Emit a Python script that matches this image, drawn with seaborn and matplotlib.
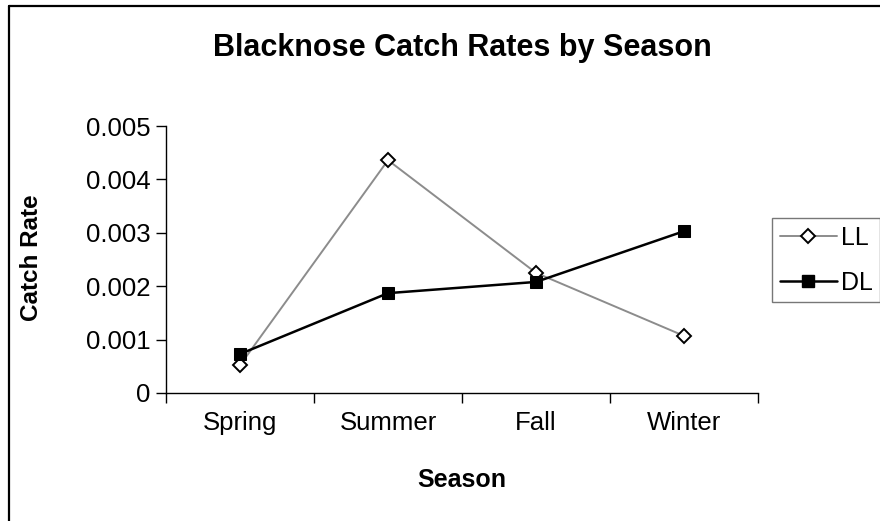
import numpy as np
import pandas as pd
import matplotlib
matplotlib.use("Agg")
import matplotlib.pyplot as plt
from matplotlib.lines import Line2D
import seaborn as sns

seasons = ["Spring", "Summer", "Fall", "Winter"]
ll_rate = [0.00052, 0.00436, 0.00225, 0.00107]
dl_rate = [0.00073, 0.00187, 0.00208, 0.00303]
y_ticks = [0, 0.001, 0.002, 0.003, 0.004, 0.005]
y_tick_labels = ["0", "0.001", "0.002", "0.003", "0.004", "0.005"]

sns.set_style("white")
plt.rcParams["font.family"] = ["Liberation Sans", "DejaVu Sans"]
plt.rcParams["text.color"] = "black"
plt.rcParams["axes.labelcolor"] = "black"
plt.rcParams["xtick.color"] = "black"
plt.rcParams["ytick.color"] = "black"

df = pd.DataFrame({
    "Season": seasons * 2,
    "Catch Rate": ll_rate + dl_rate,
    "Gear": ["LL"] * 4 + ["DL"] * 4,
})

W, H = 880, 521
fig = plt.figure(figsize=(W / 100, H / 100), dpi=100, facecolor="white")
ax = fig.add_axes([166 / W, 1 - 393 / H, (758 - 166) / W, (393 - 126) / H])

ll = df[df["Gear"] == "LL"]
dl = df[df["Gear"] == "DL"]
sns.lineplot(data=ll, x="Season", y="Catch Rate", ax=ax, color="#8c8c8c", lw=1.4,
             marker="D", markersize=7, markerfacecolor="white", markeredgecolor="black",
             markeredgewidth=1.4, sort=False)
sns.lineplot(data=dl, x="Season", y="Catch Rate", ax=ax, color="black", lw=1.8,
             marker="s", markersize=8, markerfacecolor="black", markeredgecolor="black",
             sort=False)

ax.set_xlim(-0.5, 3.5)
ax.set_ylim(0, 0.005)
ax.set_xticks(np.arange(-0.5, 4, 1))
ax.set_xticklabels([])
ax.set_xticks(np.arange(0, 4), minor=True)
ax.set_xticklabels(seasons, minor=True, fontsize=18.5)
ax.tick_params(axis="x", which="minor", length=0, pad=13)
ax.tick_params(axis="x", which="major", direction="out", length=7, width=1, color="black", bottom=True)
ax.set_yticks(y_ticks)
ax.set_yticklabels(y_tick_labels, fontsize=18.5)
ax.tick_params(axis="y", direction="out", length=7, width=1, color="black", left=True, pad=4)

for s in ["top", "right"]:
    ax.spines[s].set_visible(False)
for s in ["left", "bottom"]:
    ax.spines[s].set_color("black")
    ax.spines[s].set_linewidth(1)
ax.set_xlabel("")
ax.set_ylabel("")

fig.text(462 / W, 1 - 48 / H, "Blacknose Catch Rates by Season", ha="center", va="center",
         fontsize=22, fontweight="bold")
fig.text(462 / W, 1 - 480 / H, "Season", ha="center", va="center", fontsize=18, fontweight="bold")
fig.text(31 / W, 1 - 258 / H, "Catch Rate", ha="center", va="center", rotation=90,
         fontsize=17.5, fontweight="bold")

handles = [
    Line2D([], [], color="#8c8c8c", lw=1.4, marker="D", markersize=7,
           markerfacecolor="white", markeredgecolor="black", markeredgewidth=1.4),
    Line2D([], [], color="black", lw=1.8, marker="s", markersize=8,
           markerfacecolor="black", markeredgecolor="black"),
]
leg = fig.legend(handles, ["LL", "DL"], loc="upper left", bbox_to_anchor=(772 / W, 1 - 218 / H),
                 borderaxespad=0, fontsize=18, frameon=True, fancybox=False,
                 handlelength=2.3, handletextpad=0.15, labelspacing=0.85, borderpad=0.3)
leg.get_frame().set_edgecolor("#555555")
leg.get_frame().set_linewidth(1)

# chart area border (left and top edges visible)
fig.add_artist(Line2D([9 / W, 9 / W], [0, 1 - 6 / H], color="black", lw=1.6))
fig.add_artist(Line2D([9 / W, 1], [1 - 6 / H, 1 - 6 / H], color="black", lw=1.6))

fig.savefig("out.png", dpi=100, facecolor="white")
